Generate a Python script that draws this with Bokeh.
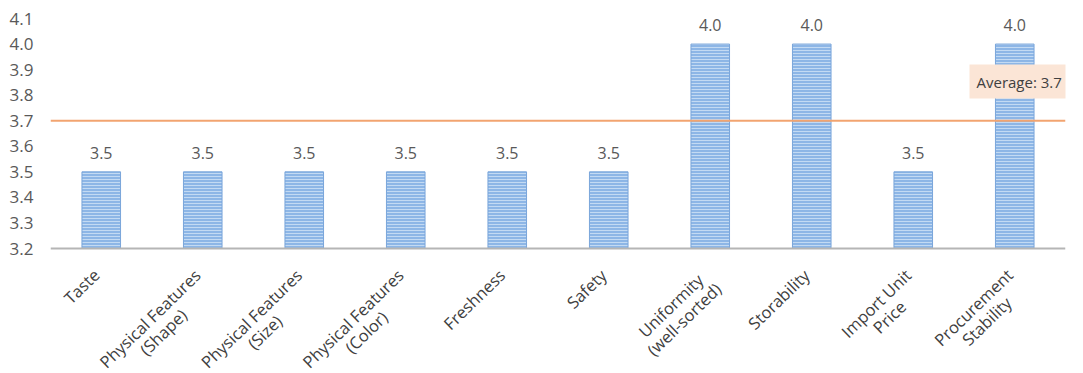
import glob
import math
from bokeh.plotting import figure
from bokeh.models import ColumnDataSource, LabelSet, Label, Span, FixedTicker, NumeralTickFormatter
from bokeh.core.properties import value
from bokeh.embed import file_html
from bokeh.resources import INLINE

categories = ["Taste", "Physical Features\n(Shape)", "Physical Features\n(Size)",
              "Physical Features\n(Color)", "Freshness", "Safety",
              "Uniformity\n(well-sorted)", "Storability", "Import Unit\nPrice",
              "Procurement\nStability"]
values = [3.5, 3.5, 3.5, 3.5, 3.5, 3.5, 4.0, 4.0, 3.5, 4.0]
value_labels = ["3.5", "3.5", "3.5", "3.5", "3.5", "3.5", "4.0", "4.0", "3.5", "4.0"]
average = 3.7
average_label = "Average: 3.7"
y_min, y_max = 3.2, 4.1
y_ticks = [3.2, 3.3, 3.4, 3.5, 3.6, 3.7, 3.8, 3.9, 4.0, 4.1]

FONT = "Open Sans"
GRAY = "#595959"
CAT_SIZE = 16.5
ANGLE = 0.77
LINE_H = 19

# ---- text width measurement (for centring the two lines of a rotated label)
def _measurer(size):
    try:
        from PIL import ImageFont
        files = []
        for pat in ["/usr/share/fonts/**/OpenSans-Regular.ttf",
                    "/usr/share/fonts/**/OpenSans*.ttf",
                    "/usr/**/OpenSans*.ttf",
                    "/usr/share/fonts/**/DejaVuSans.ttf"]:
            files = sorted(glob.glob(pat, recursive=True))
            if files:
                break
        f = ImageFont.truetype(files[0], size)
        return lambda s: f.getlength(s)
    except Exception:
        return lambda s: len(s) * size * 0.55

measure = _measurer(CAT_SIZE)

ux, uy = math.cos(ANGLE), math.sin(ANGLE)      # along the text (y up)
dx, dy = math.sin(ANGLE), -math.cos(ANGLE)     # "down" across the text
ax, ay = -12.0, -17.0                          # top-right anchor below the baseline

lab_cat, lab_txt, lab_xo, lab_yo = [], [], [], []
for c in categories:
    lines = c.split("\n")
    wmax = max(measure(s) for s in lines)
    for i, s in enumerate(lines):
        along = -wmax / 2.0
        across = (i + 0.5) * LINE_H
        lab_cat.append(c)
        lab_txt.append(s)
        lab_xo.append(ax + along * ux + across * dx)
        lab_yo.append(ay + along * uy + across * dy)

src = ColumnDataSource(dict(cat=categories, val=values, lab=value_labels))
cat_src = ColumnDataSource(dict(cat=lab_cat, txt=lab_txt, xo=lab_xo, yo=lab_yo,
                                base=[y_min] * len(lab_cat)))

# frame reaches down to the page bottom so rotated category labels stay inside it
frame_h = 373 - 18
y_lo = y_max - (y_max - y_min) * frame_h / 230.0

p = figure(x_range=categories, y_range=(y_lo, y_max), width=1083, height=373,
           output_backend="svg", toolbar_location=None,
           min_border_left=50, min_border_right=18, min_border_top=18,
           min_border_bottom=0)
p.outline_line_color = None
p.background_fill_color = "white"
p.border_fill_color = "white"
p.xaxis.visible = False

p.vbar(x="cat", top="val", bottom=y_min, width=0.38, source=src,
       fill_color="#8db6e6", line_color="#7aa6da", line_width=1,
       hatch_pattern="horizontal_line", hatch_color="#c3daf3",
       hatch_scale=3, hatch_weight=1)

# category axis baseline
p.add_layout(Span(location=y_min, dimension="width", line_color="#b5b5b5",
                  line_width=2))

p.add_layout(Span(location=average, dimension="width", line_color="#f2a470",
                  line_width=2))

p.add_layout(LabelSet(x="cat", y="val", text="lab", source=src, y_offset=13,
                      text_align="center", text_baseline="bottom",
                      text_font=value(FONT), text_font_size="16px", text_color=GRAY))

p.add_layout(LabelSet(x="cat", y="base", text="txt", source=cat_src,
                      x_offset="xo", y_offset="yo", angle=ANGLE,
                      text_align="center", text_baseline="middle",
                      text_font=value(FONT), text_font_size=f"{CAT_SIZE}px",
                      text_color="#404040"))

p.add_layout(Label(x=919, y=373 - 81, x_units="screen", y_units="screen",
                   text=average_label, text_font=FONT, text_font_size="15px",
                   text_color="#404040", background_fill_color="#fbe5d6",
                   text_baseline="middle", padding=7))

p.xgrid.grid_line_color = None
p.ygrid.grid_line_color = None

p.yaxis.ticker = FixedTicker(ticks=y_ticks)
p.yaxis.formatter = NumeralTickFormatter(format="0.0")
p.yaxis.axis_line_color = None
p.yaxis.major_tick_line_color = None
p.yaxis.minor_tick_line_color = None
p.yaxis.major_label_text_font = FONT
p.yaxis.major_label_text_font_size = "17px"
p.yaxis.major_label_text_color = GRAY
p.yaxis.major_label_standoff = 11

open("out.html", "w").write(file_html(p, INLINE))
